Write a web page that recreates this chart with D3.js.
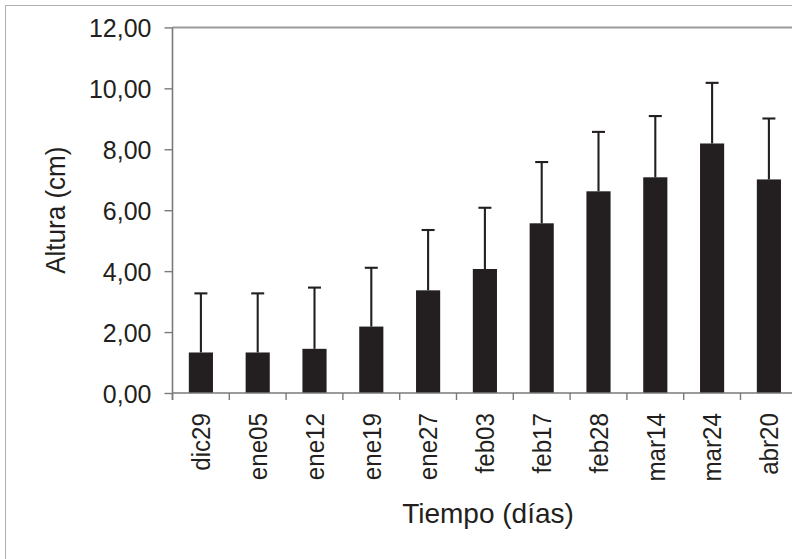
<!DOCTYPE html>
<html>
<head>
<meta charset="utf-8">
<script src="https://cdn.jsdelivr.net/npm/d3@7"></script>
<style>
  html, body { margin: 0; padding: 0; background: #fff; }
  svg { display: block; font-family: "Liberation Sans", Arial, sans-serif; }
</style>
</head>
<body>
<svg id="chart" width="792" height="559"></svg>
<script>
// Plant height per sampling date (mean and standard deviation, cm)
const fechas = ["dic29", "ene05", "ene12", "ene19", "ene27", "feb03", "feb17", "feb28", "mar14", "mar24", "abr20"];
const alturaMedia = [1.33, 1.33, 1.45, 2.18, 3.37, 4.07, 5.57, 6.62, 7.08, 8.19, 7.01];
const desviacion = [1.94, 1.94, 2.01, 1.93, 1.98, 2.01, 2.01, 1.95, 2.01, 1.99, 2.00];
const yTicks = [0, 2, 4, 6, 8, 10, 12];

const svg = d3.select("#chart");
const ink = "#231f20";
const axisGray = "#7a7a7a";

const plotLeft = 172.5, step = 56.8;
const plotRight = plotLeft + step * fechas.length;
const plotTop = 27.4, plotBottom = 393;

const x = d3.scaleBand()
  .domain(fechas)
  .range([plotLeft, plotRight])
  .paddingInner(0.575)
  .paddingOuter(0.2875);

const y = d3.scaleLinear().domain([0, 12]).range([plotBottom, plotTop]);

const fmt = v => d3.format(".2f")(v).replace(".", ",");

// outer frame of the chart area
svg.append("rect")
  .attr("x", 5.5).attr("y", 5.5)
  .attr("width", 800).attr("height", 600)
  .attr("fill", "none").attr("stroke", "#b0b0b0").attr("stroke-width", 1);

// top edge of the plot area
svg.append("line")
  .attr("x1", plotLeft).attr("x2", 800)
  .attr("y1", y(12)).attr("y2", y(12))
  .attr("stroke", "#9a9a9a").attr("stroke-width", 2);

// bars
svg.append("g").selectAll("rect")
  .data(fechas)
  .join("rect")
  .attr("x", d => x(d))
  .attr("width", x.bandwidth())
  .attr("y", (d, i) => y(alturaMedia[i]))
  .attr("height", (d, i) => y(0) - y(alturaMedia[i]))
  .attr("fill", ink);

// error bars (mean + SD)
const eb = svg.append("g").attr("stroke", ink).attr("stroke-width", 2.1);
fechas.forEach((d, i) => {
  const cx = x(d) + x.bandwidth() / 2;
  const yHigh = y(alturaMedia[i] + desviacion[i]);
  eb.append("line")
    .attr("x1", cx).attr("x2", cx)
    .attr("y1", y(alturaMedia[i])).attr("y2", yHigh);
  eb.append("line")
    .attr("x1", cx - 6.5).attr("x2", cx + 6.5)
    .attr("y1", yHigh).attr("y2", yHigh);
});

// y axis
const yAxis = svg.append("g")
  .attr("transform", `translate(${plotLeft},0)`)
  .call(d3.axisLeft(y).tickValues(yTicks).tickFormat(fmt).tickSize(8).tickPadding(14));
yAxis.select(".domain").attr("stroke", axisGray).attr("stroke-width", 1.6).attr("d", `M0,${plotBottom + 7}V${plotTop}`);
yAxis.selectAll(".tick line").attr("stroke", axisGray).attr("stroke-width", 1.4);
yAxis.selectAll(".tick text")
  .attr("fill", ink)
  .style("font-size", "26px")
  .attr("dy", "0.36em")
  .attr("transform", "scale(0.96,1)");

// x axis: baseline, boundary ticks and rotated date labels
const xg = svg.append("g");
xg.append("line")
  .attr("x1", plotLeft).attr("x2", 800)
  .attr("y1", plotBottom).attr("y2", plotBottom)
  .attr("stroke", axisGray).attr("stroke-width", 1.6);
const bounds = d3.range(fechas.length + 1).map(i => plotLeft + i * step);
xg.selectAll("line.b")
  .data(bounds)
  .join("line")
  .attr("class", "b")
  .attr("x1", d => d).attr("x2", d => d)
  .attr("y1", plotBottom).attr("y2", plotBottom + 7)
  .attr("stroke", axisGray).attr("stroke-width", 1.4);
xg.selectAll("text")
  .data(fechas)
  .join("text")
  .attr("transform", d => `translate(${x(d) + x.bandwidth() / 2},${plotBottom + 20}) rotate(-90) scale(0.93,1)`)
  .attr("text-anchor", "end")
  .attr("dy", "0.36em")
  .attr("fill", ink)
  .style("font-size", "26px")
  .text(d => d);

// axis titles
svg.append("text")
  .attr("transform", `translate(${55},${(plotTop + plotBottom) / 2}) rotate(-90) scale(0.93,1)`)
  .attr("text-anchor", "middle")
  .attr("dy", "0.36em")
  .attr("fill", ink)
  .style("font-size", "28px")
  .text("Altura (cm)");

svg.append("text")
  .attr("x", 488)
  .attr("y", 523)
  .attr("text-anchor", "middle")
  .attr("fill", ink)
  .style("font-size", "28px")
  .text("Tiempo (días)");
</script>
</body>
</html>
